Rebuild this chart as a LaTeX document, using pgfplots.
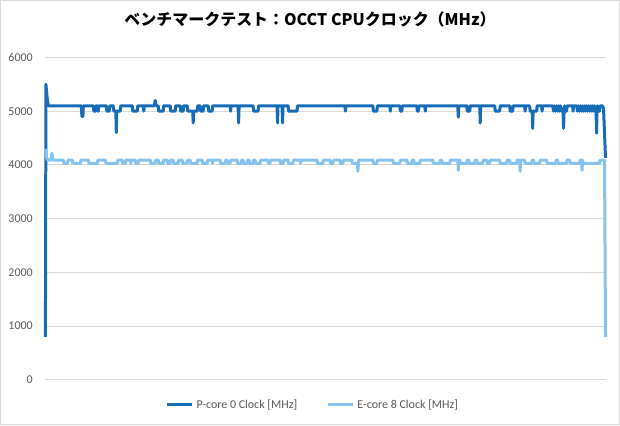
\documentclass[border=0pt]{standalone}
\usepackage{fontspec}
\setmainfont{Carlito}
\newfontfamily\cjk{Noto Sans CJK JP}
\usepackage{pgfplots}
\pgfplotsset{compat=1.18}
\definecolor{pcol}{RGB}{22,108,182}
\definecolor{ecol}{RGB}{134,194,238}
\definecolor{gridc}{RGB}{217,217,217}
\definecolor{txt}{RGB}{89,89,89}
\begin{document}
\begin{tikzpicture}[x=1pt,y=1pt]
\draw[fill=white, draw=gridc, line width=0.75pt] (0,0) rectangle (465,318.75);
\node[font=\cjk\bfseries\fontsize{12}{14}\selectfont] at (232.5,304.5) {ベンチマークテスト：OCCT CPUクロック（MHz）};
\begin{axis}[at={(33.75pt,33.75pt)}, anchor=south west, scale only axis,
  width=420.75pt, height=242.25pt, xmin=45, xmax=606, ymin=0, ymax=6000,
  ytick={0,1000,...,6000}, xtick=\empty, ymajorgrids,
  grid style={gridc, line width=0.75pt},
  axis line style={draw=none}, major tick style={draw=none},
  yticklabel style={font=\fontsize{9}{10}\selectfont, text=txt, xshift=-6pt},
  /pgf/number format/assume math mode=true, /pgf/number format/1000 sep={},
  scaled y ticks=false,
  legend columns=2,
  legend style={at={(0.478,-0.077)}, anchor=center, draw=none, fill=none,
    font=\fontsize{9}{10}\selectfont, text=txt,
    /tikz/every even column/.append style={column sep=20pt}},
  legend image code/.code={\draw[#1] (0pt,0pt) -- (19pt,0pt);},
  clip=false]
\addplot[pcol, line width=2.25pt, line join=round, no marks] coordinates {
(45,800)(45.5,5500)(47,5200)(48,5100)
(81,5100)(81.5,4900)(82.5,4900)(83,5100)
(93,5100)(93.5,5000)(95,5000)(95.5,5100)
(97,5100)(97.5,5000)(98,5000)(98.5,5100)
(106,5100)(106.5,5000)(109,5000)(109.5,5100)
(113,5100)(113.5,5000)(115.5,5000)(116,4600)(116.5,5000)(120,5000)(120.5,5100)
(132,5100)(132.5,5000)(137,5000)(137.5,5100)
(143,5100)(143.5,5000)(144,5100)
(154,5100)(155,5200)(156,5100)
(158,5100)(158.5,5000)(163,5000)(163.5,5100)
(170,5100)(170.5,5000)(175,5000)(175.5,5100)
(180,5100)(180.5,5000)(183,5000)(183.5,5100)
(187,5100)(187.5,5000)(192.5,5000)(193,4780)(193.5,5000)(197,5000)(197.5,5100)
(200,5100)(200.5,5000)(203,5000)(203.5,5100)
(208,5100)(208.5,5000)(212,5000)(212.5,5100)
(230,5100)(230.5,5000)(231,5100)
(238,5100)(238.5,4780)(239,5100)
(253,5100)(253.5,5000)(258,5000)(258.5,5100)
(277,5100)(277.5,4780)(278,5100)
(282,5100)(282.5,4780)(283,5100)
(288,5100)(288.5,5000)(297,5000)(297.5,5100)
(345,5100)(345.5,5000)(346,5100)
(373,5100)(373.5,5000)(377,5000)(377.5,5100)
(390,5100)(390.5,5000)(391,5100)
(400,5100)(400.5,5000)(402,5000)(402.5,5100)
(417,5100)(417.5,5000)(418.5,5000)(419,5100)
(425,5100)(425.5,5000)(426,5100)
(458,5100)(458.5,4890)(459,5100)
(467,5100)(467.5,5000)(470,5000)(470.5,5100)
(480,5100)(480.5,4780)(481,5100)
(495,5100)(495.5,5000)(500,5000)(500.5,5100)
(510,5100)(510.5,5000)(513,5000)(513.5,5100)
(525,5100)(525.5,5000)(526,5100)
(530,5100)(530.5,5000)(532.5,5000)(533,4680)(533.5,5000)(537,5000)(537.5,5100)
(542,5100)(542.5,5000)(543,5100)
(553,5100)(554,5000)(555,5100)(556,5000)(557,5100)(558,5000)(559,5100)(560,5000)(561,5100)(562,5000)(563.5,5000)(564,4680)(564.5,5000)(565,5100)(566,5000)(567,5000)(567.5,5100)
(573,5100)(573.5,5000)(574,5100)
(577,5100)(578,5000)(579,5100)(580,5000)(581,5100)(582,5000)(583,5100)(584,5000)(585,5100)(586,5000)(587,5100)(588,5000)(589,5100)(590,5000)(591,5100)(592,5000)(593,5100)(594,5000)(595,5100)(596,5000)(596.5,5000)(597,4590)(597.5,5000)(598,5100)(599,5000)(600,5000)(600.5,5100)
(603,5100)(604,5050)(606,4130)
};
\addlegendentry{P-core 0 Clock [MHz]}
\addplot[ecol, line width=2.25pt, line join=round, no marks] coordinates {
(45,4300)(46,4150)(47,4090)(50.5,4090)(51.5,4220)(52.5,4090)
(63,4090)(63.5,4030)(67,4030)(67.5,4090)
(72,4090)(72.5,4030)(80,4030)(80.5,4090)
(88,4090)(88.5,4030)(97,4030)(97.5,4090)
(105,4090)(105.5,4030)(117,4030)(117.5,4090)
(122,4090)(122.5,4030)(125,4030)(125.5,4090)
(130,4090)(130.5,4030)(131,4090)
(135,4090)(135.5,4030)(138,4030)(138.5,4090)
(150,4090)(150.5,4030)(155,4030)(155.5,4090)
(158,4090)(158.5,4030)(163,4030)(163.5,4090)
(167,4090)(167.5,4030)(170,4030)(170.5,4090)
(173,4090)(173.5,4030)(178,4030)(178.5,4090)
(182,4090)(182.5,4030)(187,4030)(187.5,4090)
(190,4090)(190.5,4030)(197,4030)(197.5,4090)
(202,4090)(202.5,4030)(207,4030)(207.5,4090)
(212,4090)(212.5,4030)(213,4090)
(220,4090)(220.5,4030)(225,4030)(225.5,4090)
(227,4090)(227.5,4030)(230,4030)(230.5,4090)
(237,4090)(237.5,4030)(241,4030)(241.5,4090)(243,4090)(243.5,4030)(247,4030)(247.5,4090)(249,4090)(249.5,4030)(253,4030)(253.5,4090)(255,4090)(255.5,4030)(260,4030)(260.5,4090)
(268,4090)(268.5,4030)(270,4030)(270.5,4090)
(280,4090)(280.5,4030)(283,4030)(283.5,4090)
(288,4090)(288.5,4030)(293,4030)(293.5,4090)
(300,4090)(300.5,4030)(301,4090)
(317,4090)(317.5,4030)(323,4030)(323.5,4090)
(330,4090)(330.5,4030)(333,4030)(333.5,4090)
(340,4090)(340.5,4030)(343,4030)(343.5,4090)
(352,4090)(352.5,4030)(357.5,4030)(358,3880)(358.5,4030)(359,4090)
(373,4090)(373.5,4030)(377,4030)(377.5,4090)
(393,4090)(393.5,4030)(400,4030)(400.5,4090)
(407,4090)(407.5,4030)(412,4030)(412.5,4090)(414,4090)(414.5,4030)(420,4030)(420.5,4090)
(433,4090)(433.5,4030)(440,4030)(440.5,4090)(442,4090)(442.5,4030)(450,4030)(450.5,4090)
(458,4090)(458.5,3900)(459,4090)
(460,4090)(460.5,4030)(467,4030)(467.5,4090)(469,4090)(469.5,4030)(475,4030)(475.5,4090)(477,4090)(477.5,4030)(483,4030)(483.5,4090)
(487,4090)(487.5,4030)(490,4030)(490.5,4090)
(500,4090)(500.5,4030)(507,4030)(507.5,4090)
(510,4090)(510.5,4030)(517,4030)(517.5,4090)
(520,4090)(520.5,3880)(521,4090)
(525,4090)(525.5,4030)(532,4030)(532.5,4090)(534,4090)(534.5,4030)(540,4030)(540.5,4090)
(547,4090)(547.5,4030)(556,4030)(556.5,4090)(558,4090)(558.5,4030)(567,4030)(567.5,4090)
(570,4090)(570.5,4030)(580,4030)(580.5,4090)
(582,4090)(582.5,3900)(583,4090)
(583.5,4030)(600,4030)(600.5,4090)
(605,4090)(606,800)
};
\addlegendentry{E-core 8 Clock [MHz]}
\end{axis}
\end{tikzpicture}
\end{document}
